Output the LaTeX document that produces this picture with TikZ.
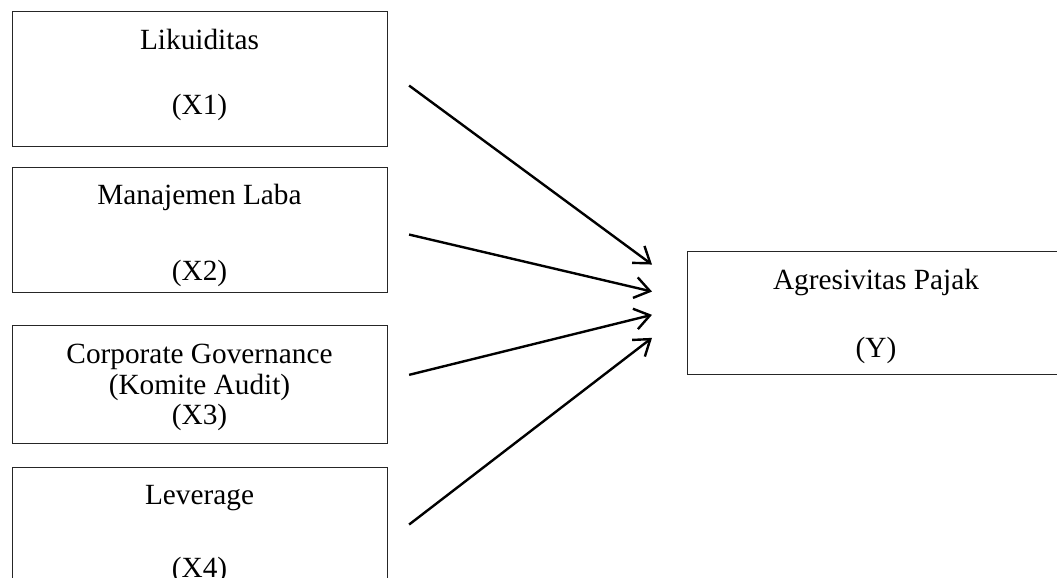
\documentclass[tikz,border=0pt]{standalone}
\usepackage{fontspec}
\setmainfont{Liberation Serif}
\usetikzlibrary{arrows.meta}
\begin{document}
\begin{tikzpicture}[x=1pt,y=-1pt,
  varbox/.style={draw=black!85, line width=1.1pt, rectangle, inner sep=0pt, anchor=north west},
  lbl/.style={anchor=base, inner sep=0pt, font=\fontsize{29.3}{30.5}\selectfont},
  arr/.style={line width=2.4pt, -{Straight Barb[length=15pt,width=21pt,line width=2.4pt]}}]
\useasboundingbox (0,0) rectangle (1057,578);
\fill[white] (0,0) rectangle (1057,578);
% boxes
\node[varbox, minimum width=375pt, minimum height=135pt] (b1) at (12,11) {};
\node[varbox, minimum width=375pt, minimum height=125pt] (b2) at (12,167) {};
\node[varbox, minimum width=375pt, minimum height=118pt] (b3) at (12,325) {};
\node[varbox, minimum width=375pt, minimum height=140pt] (b4) at (12,467) {};
\node[varbox, minimum width=400pt, minimum height=123pt] (yb) at (687,251) {};
% texts
\node[lbl] (t1a) at (199.5,49) {Likuiditas};
\node[lbl] (t1b) at (199.5,114) {(X1)};
\node[lbl] (t2a) at (199.5,204) {Manajemen Laba};
\node[lbl] (t2b) at (199.5,280) {(X2)};
\node[lbl] (t3a) at (199.5,363) {Corporate Governance};
\node[lbl] (t3b) at (199.5,394) {(Komite Audit)};
\node[lbl] (t3c) at (199.5,424) {(X3)};
\node[lbl] (t4a) at (199.5,504) {Leverage};
\node[lbl] (t4b) at (199.5,577) {(X4)};
\node[lbl] (tya) at (876,289) {Agresivitas Pajak};
\node[lbl] (tyb) at (876,357) {(Y)};
% arrows
\draw[arr] ([shift={(21,6.5)}]b1.east) -- ([shift={(-35,-48.5)}]yb.west);
\draw[arr] ([shift={(21,4.5)}]b2.east) -- ([shift={(-35,-21.5)}]yb.west);
\draw[arr] ([shift={(21,-9.7)}]b3.east) -- ([shift={(-35,1.8)}]yb.west);
\draw[arr] ([shift={(21,-13)}]b4.east) -- ([shift={(-35,24.8)}]yb.west);
\end{tikzpicture}
\end{document}
